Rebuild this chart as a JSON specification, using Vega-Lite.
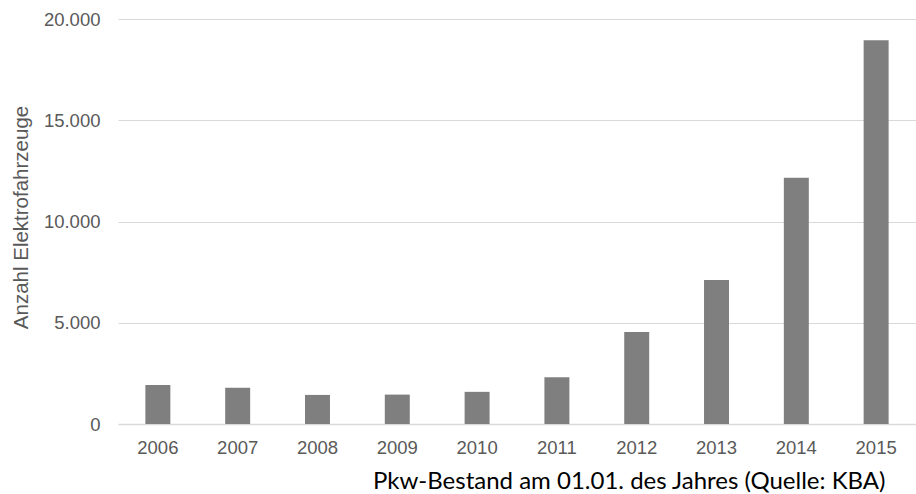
{
  "$schema": "https://vega.github.io/schema/vega-lite/v6.json",
  "width": 798,
  "height": 405,
  "autosize": {"type": "none"},
  "padding": {"left": 118, "top": 19, "right": 0, "bottom": 70},
  "background": "white",
  "config": {
    "view": {"stroke": null},
    "locale": {"number": {"decimal": ",", "thousands": ".", "grouping": [3], "currency": ["", " €"]}}
  },
  "data": {
    "values": [
      {"Jahr": "2006", "Anzahl": 1931},
      {"Jahr": "2007", "Anzahl": 1790},
      {"Jahr": "2008", "Anzahl": 1436},
      {"Jahr": "2009", "Anzahl": 1452},
      {"Jahr": "2010", "Anzahl": 1588},
      {"Jahr": "2011", "Anzahl": 2307},
      {"Jahr": "2012", "Anzahl": 4541},
      {"Jahr": "2013", "Anzahl": 7114},
      {"Jahr": "2014", "Anzahl": 12156},
      {"Jahr": "2015", "Anzahl": 18948}
    ]
  },
  "mark": {"type": "bar", "color": "#7f7f7f"},
  "encoding": {
    "x": {
      "field": "Jahr",
      "type": "ordinal",
      "scale": {"paddingInner": 0.687, "paddingOuter": 0.343},
      "axis": {
        "title": "Pkw-Bestand am 01.01. des Jahres (Quelle: KBA)",
        "titleFont": "Lato",
        "titleFontSize": 24,
        "titleFontWeight": "normal",
        "titleColor": "#000000",
        "titleAnchor": "end",
        "titleAlign": "right",
        "titleBaseline": "alphabetic",
        "titleX": 767,
        "titleY": 64,
        "labelAngle": 0,
        "labelFont": "Liberation Sans",
        "labelFontSize": 18.5,
        "labelColor": "#595959",
        "labelPadding": 14,
        "ticks": false,
        "domain": true,
        "domainColor": "#d9d9d9",
        "domainWidth": 1.5
      }
    },
    "y": {
      "field": "Anzahl",
      "type": "quantitative",
      "scale": {"domain": [0, 20000]},
      "axis": {
        "title": "Anzahl Elektrofahrzeuge",
        "values": [0, 5000, 10000, 15000, 20000],
        "format": ",d",
        "titleFont": "Liberation Sans",
        "titleFontSize": 20.5,
        "titleFontWeight": "normal",
        "titleColor": "#595959",
        "titleX": -97,
        "titleY": 198,
        "titleAngle": -90,
        "titleAlign": "center",
        "titleBaseline": "middle",
        "labelFont": "Liberation Sans",
        "labelFontSize": 18.5,
        "labelColor": "#595959",
        "labelPadding": 18,
        "ticks": false,
        "domain": false,
        "grid": true,
        "gridColor": "#d9d9d9",
        "gridWidth": 1.2
      }
    }
  }
}
